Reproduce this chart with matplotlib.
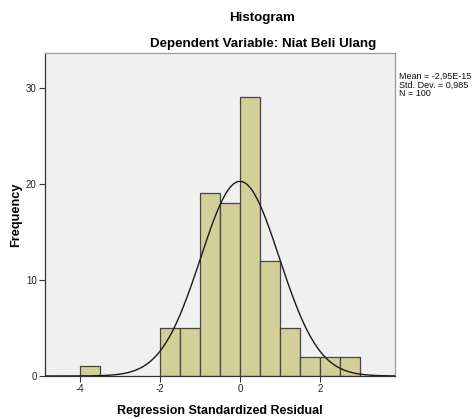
import numpy as np
import matplotlib
matplotlib.use("Agg")
import matplotlib.pyplot as plt

plt.rcParams['font.family'] = ['Liberation Sans', 'DejaVu Sans']

bin_edges = [-4.0, -3.5, -3.0, -2.5, -2.0, -1.5, -1.0, -0.5, 0.0, 0.5, 1.0, 1.5, 2.0, 2.5, 3.0]
counts = [1, 0, 0, 0, 5, 5, 19, 18, 29, 12, 5, 2, 2, 2]
mean = -2.95e-15
std = 0.985
n = 100
xticks = [-4, -2, 0, 2]
yticks = [0, 10, 20, 30]

W, H = 472, 419
fig = plt.figure(figsize=(W/100, H/100), dpi=100)
ax = fig.add_axes([45/W, (H-376)/H, 350/W, (376-53)/H])
ax.set_facecolor('#F0F0F0')

lefts = bin_edges[:-1]
widths = np.diff(bin_edges)
for l, w, c in zip(lefts, widths, counts):
    if c > 0:
        ax.bar(l, c, width=w, align='edge', color='#D3CF99', edgecolor='#444444', linewidth=0.9, zorder=2)

xs = np.linspace(-4.9, 3.9, 400)
bw = widths[0]
ys = n * bw / (std * np.sqrt(2*np.pi)) * np.exp(-0.5*((xs-mean)/std)**2)
ax.plot(xs, ys, color='#1a1a1a', linewidth=1.0, zorder=3)

ax.set_xlim(-4.875, 3.875)
ax.set_ylim(0, 33.6)
ax.set_xticks(xticks)
ax.set_xticklabels([str(t) for t in xticks])
ax.set_yticks(yticks)
ax.tick_params(axis='both', labelsize=7, length=4, width=0.8, color='#333333', labelcolor='#222222', pad=2)
for s in ['left', 'bottom']:
    ax.spines[s].set_color('#333333')
    ax.spines[s].set_linewidth(0.9)
for s in ['top', 'right']:
    ax.spines[s].set_color('#999999')
    ax.spines[s].set_linewidth(0.9)

ax.set_xlabel('Regression Standardized Residual', fontsize=9, fontweight='bold', labelpad=8)
ax.set_ylabel('Frequency', fontsize=9.2, fontweight='bold', labelpad=3)

fig.text(262/W, 1-18/H, 'Histogram', ha='center', va='center', fontsize=9.6, fontweight='bold')
fig.text(263/W, 1-44/H, 'Dependent Variable: Niat Beli Ulang', ha='center', va='center', fontsize=9.6, fontweight='bold')

fig.text(399/W, 1-72/H, 'Mean = -2,95E-15\nStd. Dev. = 0,985\nN = 100', ha='left', va='top',
         fontsize=6.5, linespacing=0.95, color='#111111')

fig.savefig('out.png', dpi=100)
